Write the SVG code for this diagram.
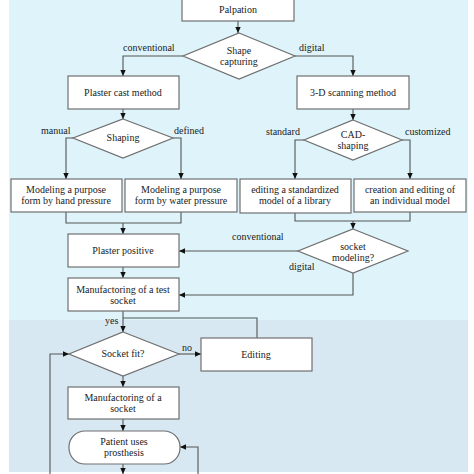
<svg xmlns="http://www.w3.org/2000/svg" width="474" height="474" viewBox="0 0 474 474">
<style>
.n{fill:#fff;stroke:#6f6f6f;stroke-width:1.2}
text{font-family:'Liberation Serif','Times New Roman',serif;font-size:10px;fill:#222}
.t{text-anchor:middle}
.c{fill:none;stroke:#555;stroke-width:1.1}
</style>
<defs>
<marker id="ah" viewBox="0 0 10 10" refX="10" refY="5" markerWidth="6" markerHeight="6" orient="auto" markerUnits="userSpaceOnUse"><path d="M0,0.5 L10,5 L0,9.5 z" fill="#111"/></marker>
</defs>
<rect x="0" y="0" width="474" height="474" fill="#fff"/>
<rect x="9" y="0" width="459" height="320" fill="#def4fa"/>
<rect x="9" y="320" width="459" height="152" fill="#d8e8f2"/>

<g id="connectors" font-family="Liberation Serif, serif">
<path class="c" d="M238,21 V33" marker-end="url(#ah)"/>
<path class="c" d="M183,56 H123 V76" marker-end="url(#ah)"/>
<path class="c" d="M295,56 H353 V76" marker-end="url(#ah)"/>
<path class="c" d="M123,109 V119" marker-end="url(#ah)"/>
<path class="c" d="M353,109 V120" marker-end="url(#ah)"/>
<path class="c" d="M73,138 H66 V179" marker-end="url(#ah)"/>
<path class="c" d="M173,138 H181 V179" marker-end="url(#ah)"/>
<path class="c" d="M304,140 H295 V179" marker-end="url(#ah)"/>
<path class="c" d="M402,140 H410 V179" marker-end="url(#ah)"/>
<path class="c" d="M66,212 V223 H181 V212"/>
<path class="c" d="M123,223 V234" marker-end="url(#ah)"/>
<path class="c" d="M295,213 V221 H410 V212"/>
<path class="c" d="M353,221 V229" marker-end="url(#ah)"/>
<path class="c" d="M298,251 H179" marker-end="url(#ah)"/>
<path class="c" d="M353,273 V295 H179" marker-end="url(#ah)"/>
<path class="c" d="M123,267 V278" marker-end="url(#ah)"/>
<path class="c" d="M123,311 V332" marker-end="url(#ah)"/>
<path class="c" d="M257,338 V318 H123"/>
<path class="c" d="M179,354 H201" marker-end="url(#ah)"/>
<path class="c" d="M123,376 V387" marker-end="url(#ah)"/>
<path class="c" d="M123,419 V431" marker-end="url(#ah)"/>
<path class="c" d="M123,464 V474" marker-end="url(#ah)"/>
<path class="c" d="M50,474 V354 H69" marker-end="url(#ah)"/>
<path class="c" d="M198,474 V447 H180" marker-end="url(#ah)"/>
<text x="123" y="51">conventional</text>
<text x="299" y="51">digital</text>
<text x="41" y="134">manual</text>
<text x="174" y="134">defined</text>
<text x="266" y="135">standard</text>
<text x="405" y="135">customized</text>
<text x="232" y="240">conventional</text>
<text x="289" y="270">digital</text>
<text x="105" y="324">yes</text>
<text x="182" y="351">no</text>
</g>

<g id="palpation"><rect class="n" x="182" y="-10" width="112" height="31"/><text class="t" x="238" y="13">Palpation</text></g>
<g id="shape-capturing"><polygon class="n" points="239,33 295,56 239,79 183,56"/><text class="t" x="239" y="54">Shape</text><text class="t" x="239" y="65">capturing</text></g>
<g id="plaster-cast"><rect class="n" x="68" y="76" width="111" height="33"/><text class="t" x="123" y="96">Plaster cast method</text></g>
<g id="scanning"><rect class="n" x="297" y="76" width="112" height="33"/><text class="t" x="353" y="96">3-D scanning method</text></g>
<g id="shaping"><polygon class="n" points="123,119 173,138 123,158 73,138"/><text class="t" x="123" y="141">Shaping</text></g>
<g id="cad-shaping"><polygon class="n" points="353,120 402,140 353,160 304,140"/><text class="t" x="353" y="138">CAD-</text><text class="t" x="353" y="149">shaping</text></g>
<g id="hand"><rect class="n" x="11" y="179" width="111" height="33"/><text class="t" x="66" y="193">Modeling a purpose</text><text class="t" x="66" y="204">form by hand pressure</text></g>
<g id="water"><rect class="n" x="125" y="179" width="112" height="33"/><text class="t" x="181" y="193">Modeling a purpose</text><text class="t" x="181" y="204">form by water pressure</text></g>
<g id="standardized"><rect class="n" x="240" y="179" width="111" height="34"/><text class="t" x="295" y="193">editing a standardized</text><text class="t" x="295" y="204">model of a library</text></g>
<g id="individual"><rect class="n" x="354" y="179" width="112" height="33"/><text class="t" x="410" y="193">creation and editing of</text><text class="t" x="410" y="204">an individual model</text></g>
<g id="socket-modeling"><polygon class="n" points="353,229 408,251 353,273 298,251"/><text class="t" x="353" y="250">socket</text><text class="t" x="353" y="261">modeling?</text></g>
<g id="plaster-positive"><rect class="n" x="68" y="234" width="111" height="33"/><text class="t" x="123" y="254">Plaster positive</text></g>
<g id="test-socket"><rect class="n" x="68" y="278" width="111" height="33"/><text class="t" x="123" y="293">Manufactoring of a test</text><text class="t" x="123" y="304">socket</text></g>
<g id="socket-fit"><polygon class="n" points="123,332 179,354 123,376 69,354"/><text class="t" x="123" y="357">Socket fit?</text></g>
<g id="editing"><rect class="n" x="201" y="338" width="111" height="33"/><text class="t" x="256" y="358">Editing</text></g>
<g id="socket"><rect class="n" x="68" y="387" width="111" height="32"/><text class="t" x="123" y="401">Manufactoring of a</text><text class="t" x="123" y="412">socket</text></g>
<g id="patient"><rect class="n" x="69" y="431" width="111" height="33" rx="16" ry="16"/><text class="t" x="124" y="445">Patient uses</text><text class="t" x="124" y="456">prosthesis</text></g>
</svg>
